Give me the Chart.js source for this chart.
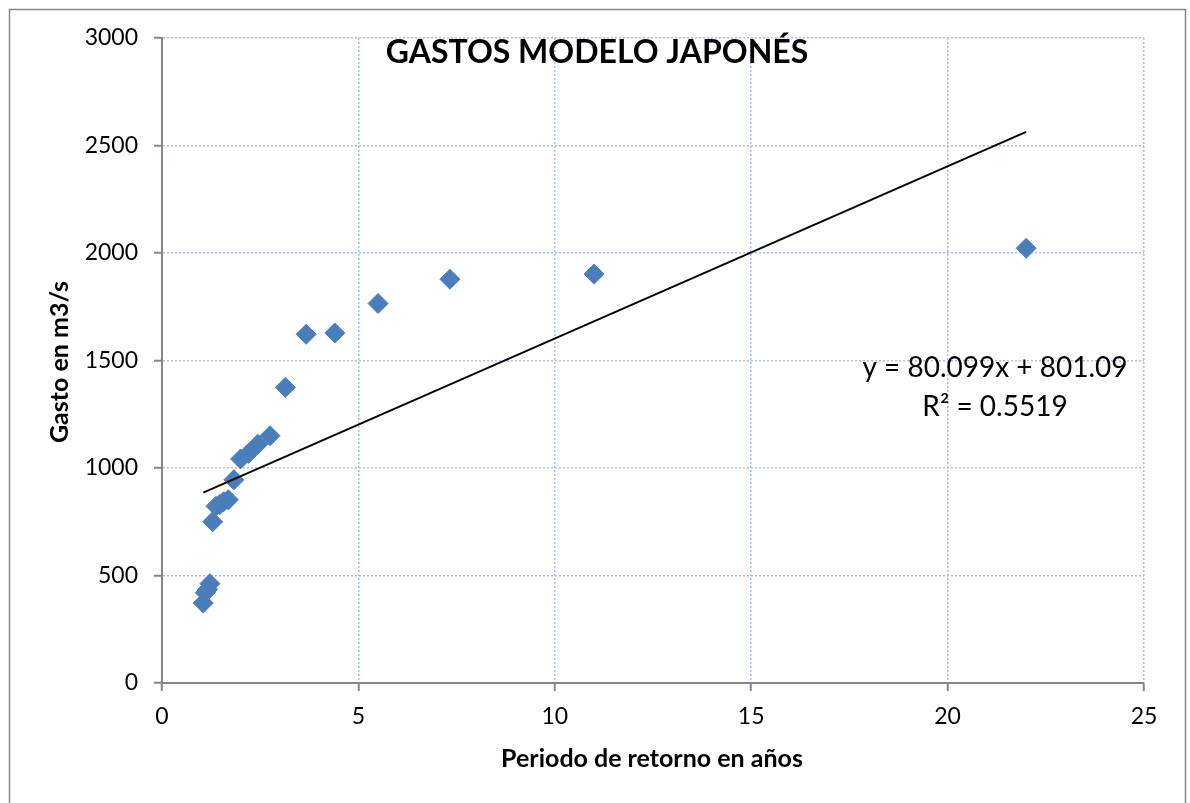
<!DOCTYPE html>
<html>
<head>
<meta charset="utf-8">
<title>Gastos modelo japonés</title>
<script src="https://cdn.jsdelivr.net/npm/chart.js@4/dist/chart.umd.min.js"></script>
<style>
  html, body { margin: 0; padding: 0; background: #fff; }
  #grafica { display: block; }
</style>
</head>
<body>
<canvas id="grafica" width="1190" height="803"></canvas>
<script>
// periodo de retorno (años) y gasto (m3/s)
var periodo = [22, 11, 7.33, 5.5, 4.4, 3.67, 3.14, 2.75, 2.44, 2.2, 2.0, 1.83, 1.69, 1.57, 1.47, 1.375, 1.29, 1.22, 1.16, 1.10, 1.05];
var gasto = [2022, 1902, 1878, 1765, 1628, 1622, 1375, 1150, 1110, 1068, 1042, 945, 852, 843, 830, 822, 750, 462, 435, 420, 372];

// linea de tendencia
var pendiente = 80.099;
var ordenada = 801.09;
var r2 = 0.5519;

var titulo = "GASTOS MODELO JAPONÉS";
var tituloX = "Periodo de retorno en años";
var tituloY = "Gasto en m3/s";

var puntos = [];
for (var i = 0; i < periodo.length; i++) {
    puntos.push({x: periodo[i], y: gasto[i]});
}
var xMin = Math.min.apply(null, periodo);
var xMax = Math.max.apply(null, periodo);
var tendencia = [
    {x: xMin, y: pendiente * xMin + ordenada},
    {x: xMax, y: pendiente * xMax + ordenada}
];

var fuente = "Lato, 'Open Sans', sans-serif";
var gris = '#868686';
var azulRejilla = '#a9c0e8';

// marco, titulos y ecuacion
var textos = {
    id: 'textos',
    beforeDraw: function(chart) {
        var ctx = chart.ctx;
        ctx.save();
        ctx.fillStyle = '#fff';
        ctx.fillRect(0, 0, chart.width, chart.height);
        ctx.strokeStyle = gris;
        ctx.lineWidth = 1.5;
        ctx.beginPath();
        ctx.moveTo(9.5, 803);
        ctx.lineTo(9.5, 9.5);
        ctx.lineTo(1185.5, 9.5);
        ctx.lineTo(1185.5, 803);
        ctx.stroke();
        ctx.restore();
    },
    afterDraw: function(chart) {
        var ctx = chart.ctx;
        ctx.save();
        ctx.fillStyle = '#000';
        ctx.textAlign = 'center';
        ctx.textBaseline = 'alphabetic';

        ctx.font = "bold 32px " + fuente;
        ctx.fillText(titulo, 597, 63);

        ctx.font = "bold 25px " + fuente;
        ctx.fillText(tituloX, 652, 767);

        ctx.save();
        ctx.translate(68, 362);
        ctx.rotate(-Math.PI / 2);
        ctx.fillText(tituloY, 0, 0);
        ctx.restore();

        ctx.font = "28px " + fuente;
        var signo = ordenada < 0 ? " - " : " + ";
        ctx.fillText("y = " + pendiente + "x" + signo + Math.abs(ordenada), 995, 377);
        ctx.fillText("R² = " + r2, 995, 416);
        ctx.restore();
    }
};

function sinFormato(valor) {
    return String(valor);
}

new Chart(document.getElementById("grafica"), {
    type: 'scatter',
    data: {
        datasets: [{
            label: "Gasto",
            data: puntos,
            pointStyle: 'rectRot',
            pointRadius: 10,
            pointHoverRadius: 10,
            backgroundColor: '#4a7ebb',
            borderColor: '#4a7ebb',
            borderWidth: 1,
            order: 2
        },
        {
            type: 'line',
            label: "Lineal",
            data: tendencia,
            borderColor: '#000',
            borderWidth: 2,
            pointRadius: 0,
            fill: false,
            order: 1
        }]
    },
    options: {
        responsive: false,
        animation: false,
        layout: {
            padding: {top: 38, right: 46, left: 0, bottom: 0}
        },
        plugins: {
            legend: {display: false},
            title: {display: false},
            tooltip: {enabled: false}
        },
        scales: {
            x: {
                type: 'linear',
                min: 0,
                max: 25,
                afterFit: function(scale) { scale.height = 120; },
                ticks: {
                    stepSize: 5,
                    color: '#000',
                    padding: 12,
                    maxRotation: 0,
                    callback: sinFormato,
                    font: {family: fuente, size: 23}
                },
                grid: {
                    color: azulRejilla,
                    lineWidth: 1.5,
                    tickColor: gris,
                    tickWidth: 2,
                    tickLength: 8
                },
                border: {
                    color: gris,
                    width: 2,
                    dash: [2, 2]
                }
            },
            y: {
                min: 0,
                max: 3000,
                afterFit: function(scale) { scale.width = 162; },
                ticks: {
                    stepSize: 500,
                    color: '#000',
                    padding: 16,
                    callback: sinFormato,
                    font: {family: fuente, size: 23}
                },
                grid: {
                    color: azulRejilla,
                    lineWidth: 1.5,
                    tickColor: gris,
                    tickWidth: 2,
                    tickLength: 8
                },
                border: {
                    color: gris,
                    width: 2,
                    dash: [2, 2]
                }
            }
        }
    },
    plugins: [textos]
});
</script>
</body>
</html>
